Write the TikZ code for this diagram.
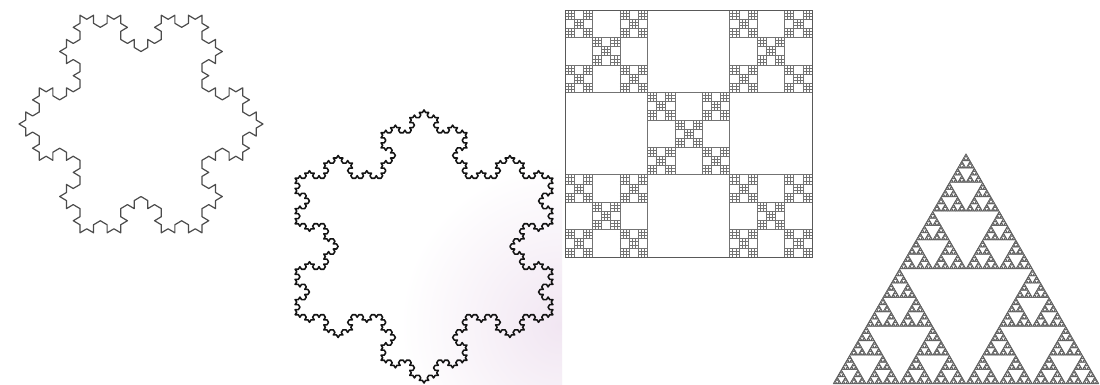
\documentclass[tikz,border=0pt]{standalone}
\usetikzlibrary{lindenmayersystems}
\pgfdeclarelindenmayersystem{Koch}{\rule{F -> F-F++F-F}}
\definecolor{pinktint}{HTML}{F1E6F2}
\tikzset{
  koch1/.style={draw=black!70, line width=1.2pt, line join=round},
  koch2/.style={draw=black!92, line width=1.55pt, line join=round},
  boxline/.style={draw=black!55, line width=0.5pt},
  sierfill/.style={fill=black!62, draw=black!62, line width=0.45pt, line join=round}
}
\newcommand\boxfrac[4]{%
  \begingroup
  \pgfmathsetmacro\bts{#3/3}%
  \pgfmathsetmacro\bxa{#1+\bts}\pgfmathsetmacro\bxb{#1+2*\bts}%
  \pgfmathsetmacro\bya{#2+\bts}\pgfmathsetmacro\byb{#2+2*\bts}%
  \pgfmathsetmacro\bxe{#1+#3}\pgfmathsetmacro\bye{#2+#3}%
  \draw[boxline] (#1,#2) rectangle (\bxe,\bye) (\bxa,#2) -- (\bxa,\bye) (\bxb,#2) -- (\bxb,\bye) (#1,\bya) -- (\bxe,\bya) (#1,\byb) -- (\bxe,\byb);%
  \ifnum#4>0
    \pgfmathtruncatemacro\bdd{#4-1}%
    \edef\bfnext{\noexpand\boxfrac{#1}{#2}{\bts}{\bdd}\noexpand\boxfrac{\bxb}{#2}{\bts}{\bdd}\noexpand\boxfrac{\bxa}{\bya}{\bts}{\bdd}\noexpand\boxfrac{#1}{\byb}{\bts}{\bdd}\noexpand\boxfrac{\bxb}{\byb}{\bts}{\bdd}}%
    \expandafter\bfnext
  \fi
  \endgroup}
\newcommand\sierp[4]{%
  \ifnum#4=0
    \filldraw[sierfill] (#1,#2) -- ++(#3,0) -- ++(120:#3) -- cycle;%
  \else
    \begingroup
    \pgfmathsetmacro\ssh{#3/2}%
    \pgfmathsetmacro\sxm{#1+\ssh}%
    \pgfmathsetmacro\sxq{#1+\ssh/2}%
    \pgfmathsetmacro\syh{#2+\ssh*0.8660254}%
    \pgfmathtruncatemacro\ssd{#4-1}%
    \edef\snext{\noexpand\sierp{#1}{#2}{\ssh}{\ssd}\noexpand\sierp{\sxm}{#2}{\ssh}{\ssd}\noexpand\sierp{\sxq}{\syh}{\ssh}{\ssd}}%
    \snext
    \endgroup
  \fi}
\begin{document}
\begin{tikzpicture}[x=1pt,y=1pt]
\useasboundingbox (0,0) rectangle (1100,385);
\fill[white] (0,0) rectangle (1100,385);
% faint tint of the second scan
\begin{scope}
  \clip (280,0) rectangle (562,385);
  \shade[inner color=pinktint, outer color=white] (560,60) circle (160);
\end{scope}
% Koch snowflake, order 3
\begin{scope}[shift={(141,261)}, yscale=1.03, rotate=30]
  \begin{scope}[shift={(-105.65,-61)}]
    \draw[koch1] (0,0) [l-system={Koch, axiom=F++F++F, order=3, step=7.826pt, angle=60}] lindenmayer system -- cycle;
  \end{scope}
\end{scope}
% Koch snowflake, order 4
\begin{scope}[shift={(424,138.5)}, xscale=1.09]
  \begin{scope}[shift={(-118.21,-68.25)}]
    \draw[koch2] (0,0) [l-system={Koch, axiom=F++F++F, order=4, step=2.919pt, angle=60}] lindenmayer system -- cycle;
  \end{scope}
\end{scope}
% box fractal
\boxfrac{565}{128}{247}{3}
\draw[draw=black!65, line width=0.8pt] (565,128) rectangle (812,375);
% Sierpinski triangle
\sierp{833}{1}{266}{7}
\end{tikzpicture}
\end{document}
